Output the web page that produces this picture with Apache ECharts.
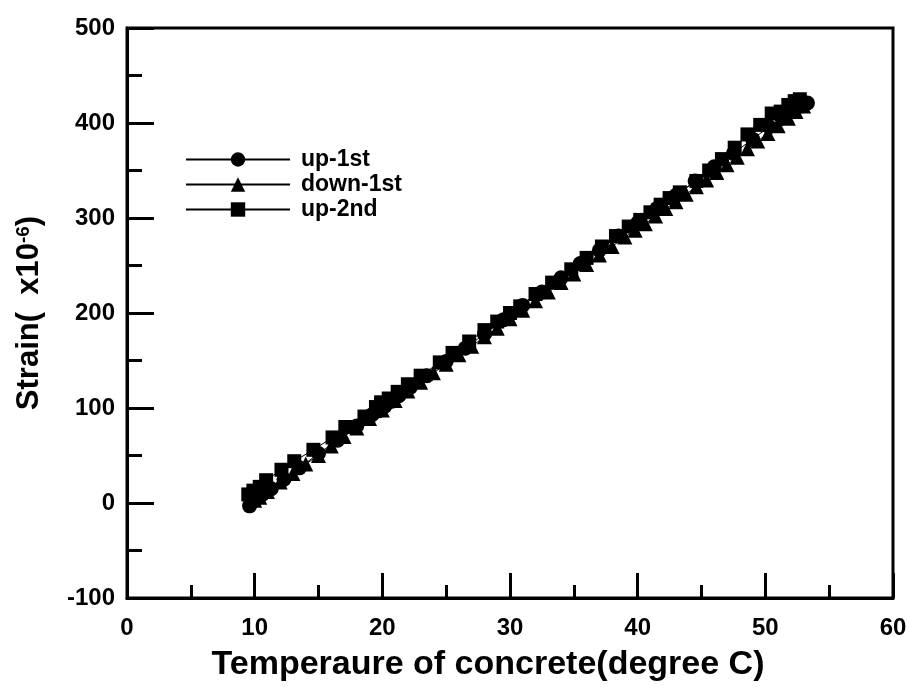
<!DOCTYPE html>
<html>
<head>
<meta charset="utf-8">
<script src="https://cdn.jsdelivr.net/npm/echarts@6/dist/echarts.min.js"></script>
<style>html,body{margin:0;padding:0;background:#fff;}#c{width:910px;height:687px;}</style>
</head>
<body>
<div id="c"></div>
<script>
var up1X = [9.6, 9.7, 9.9, 10.2, 10.6, 11.3, 12.3, 13.5, 15.0, 16.5, 18.0, 19.2, 19.7, 20.2, 20.7, 21.3, 22.2, 23.5, 25.0, 26.5, 28.0, 29.5, 31.0, 32.5, 34.0, 35.5, 37.0, 38.5, 40.0, 41.5, 43.0, 44.5, 46.0, 47.5, 49.0, 50.3, 51.3, 52.1, 52.8, 53.3];
var up1Y = [-3, 0, 3, 5, 9, 15, 25, 37, 52, 66, 81, 93, 97, 102, 107, 113, 122, 134, 149, 163, 178, 193, 208, 222, 237, 252, 266, 281, 295, 310, 324, 339, 354, 368, 383, 396, 405, 412, 418, 421];
var down1X = [53.0, 52.4, 51.8, 51.0, 50.2, 49.4, 48.6, 47.8, 47.0, 46.2, 45.4, 44.6, 43.8, 43.0, 42.2, 41.4, 40.6, 39.8, 39.0, 38.0, 37.0, 36.0, 35.0, 34.0, 33.0, 32.0, 31.0, 30.0, 29.0, 28.0, 27.0, 26.0, 25.0, 24.0, 23.0, 22.0, 21.0, 20.0, 19.0, 18.0, 17.0, 16.0, 15.0, 14.0, 13.0, 12.0, 11.0, 10.4, 10.0];
var down1Y = [418, 412, 405, 397, 389, 381, 373, 364, 356, 348, 340, 333, 325, 317, 310, 302, 294, 287, 280, 270, 261, 251, 241, 232, 222, 213, 203, 194, 184, 175, 165, 156, 146, 137, 127, 118, 108, 98, 89, 79, 70, 60, 50, 41, 31, 22, 12, 6, 3];
var up2X = [9.5, 9.9, 10.4, 10.9, 12.1, 13.1, 14.6, 16.1, 17.1, 18.6, 19.5, 19.9, 20.5, 21.2, 22.0, 23.0, 24.5, 25.5, 26.8, 28.0, 29.0, 30.0, 30.8, 32.0, 33.3, 34.8, 36.0, 37.2, 38.3, 39.3, 40.2, 41.0, 41.8, 42.5, 43.3, 44.6, 45.6, 46.6, 47.6, 48.6, 49.6, 50.5, 51.2, 51.8, 52.3, 52.7];
var up2Y = [9, 13, 17, 24, 35, 44, 56, 69, 80, 91, 101, 106, 110, 117, 125, 134, 148, 158, 170, 182, 191, 200, 207, 220, 232, 246, 258, 270, 281, 291, 298, 306, 314, 321, 327, 339, 350, 362, 374, 388, 398, 410, 412, 419, 423, 425];
var xTicks = [0, 10, 20, 30, 40, 50, 60];
var yTicks = [-100, 0, 100, 200, 300, 400, 500];

function pairs(xs, ys) { return xs.map(function (x, i) { return [x, ys[i]]; }); }

var chart = echarts.init(document.getElementById('c'), null, {renderer: 'canvas'});
var font = 'Liberation Sans, Arial, sans-serif';
var baseSeries = {
  type: 'line', symbolSize: 15, color: '#000',
  lineStyle: {color: '#000', width: 1},
  itemStyle: {color: '#000'},
  emphasis: {disabled: true},
  animation: false, z: 3
};
chart.setOption({
  animation: false,
  backgroundColor: '#fff',
  grid: {left: 127, right: 17, top: 28, bottom: 84, show: true, borderColor: '#000', borderWidth: 3, containLabel: false},
  legend: {
    orient: 'vertical', left: 180, top: 143, itemWidth: 104, itemHeight: 18, itemGap: 2,
    textStyle: {fontFamily: font, fontWeight: 'bold', fontSize: 23, lineHeight: 23, color: '#000', padding: [0, 0, 0, 6]},
    data: ['up-1st', 'down-1st', 'up-2nd']
  },
  xAxis: {
    type: 'value', min: xTicks[0], max: xTicks[xTicks.length - 1], interval: 10,
    name: 'Temperaure of concrete(degree C)', nameLocation: 'middle', nameGap: 50,
    nameTextStyle: {fontFamily: font, fontWeight: 'bold', fontSize: 34, color: '#000', padding: [0, 44, 0, 0]},
    axisLine: {show: true, onZero: false, lineStyle: {color: '#000', width: 3}},
    axisTick: {show: true, inside: true, length: 25, lineStyle: {color: '#000', width: 3}},
    minorTick: {show: true, splitNumber: 2, length: 13, lineStyle: {color: '#000', width: 3}},
    axisLabel: {fontFamily: font, fontWeight: 'bold', fontSize: 24, color: '#000', margin: 18},
    splitLine: {show: false}
  },
  yAxis: {
    type: 'value', min: yTicks[0], max: yTicks[yTicks.length - 1], interval: 100,
    name: 'Strain(  x10{sup|-6})', nameLocation: 'middle', nameGap: 82, nameRotate: 90,
    nameTextStyle: {fontFamily: font, fontWeight: 'bold', fontSize: 31, color: '#000',
      rich: {sup: {fontFamily: font, fontWeight: 'bold', fontSize: 19, color: '#000', verticalAlign: 'top', padding: [0, 0, 12, 0]}}},
    axisLine: {show: true, onZero: false, lineStyle: {color: '#000', width: 3}},
    axisTick: {show: true, inside: true, length: 27, lineStyle: {color: '#000', width: 3}},
    minorTick: {show: true, splitNumber: 2, length: 15, lineStyle: {color: '#000', width: 3}},
    axisLabel: {fontFamily: font, fontWeight: 'bold', fontSize: 24, color: '#000', margin: 12},
    splitLine: {show: false}
  },
  series: [
    Object.assign({}, baseSeries, {name: 'up-1st', symbol: 'circle', data: pairs(up1X, up1Y)}),
    Object.assign({}, baseSeries, {name: 'down-1st', symbol: 'triangle', data: pairs(down1X, down1Y)}),
    Object.assign({}, baseSeries, {name: 'up-2nd', symbol: 'rect', symbolSize: 14, data: pairs(up2X, up2Y)})
  ]
});
</script>
</body>
</html>
